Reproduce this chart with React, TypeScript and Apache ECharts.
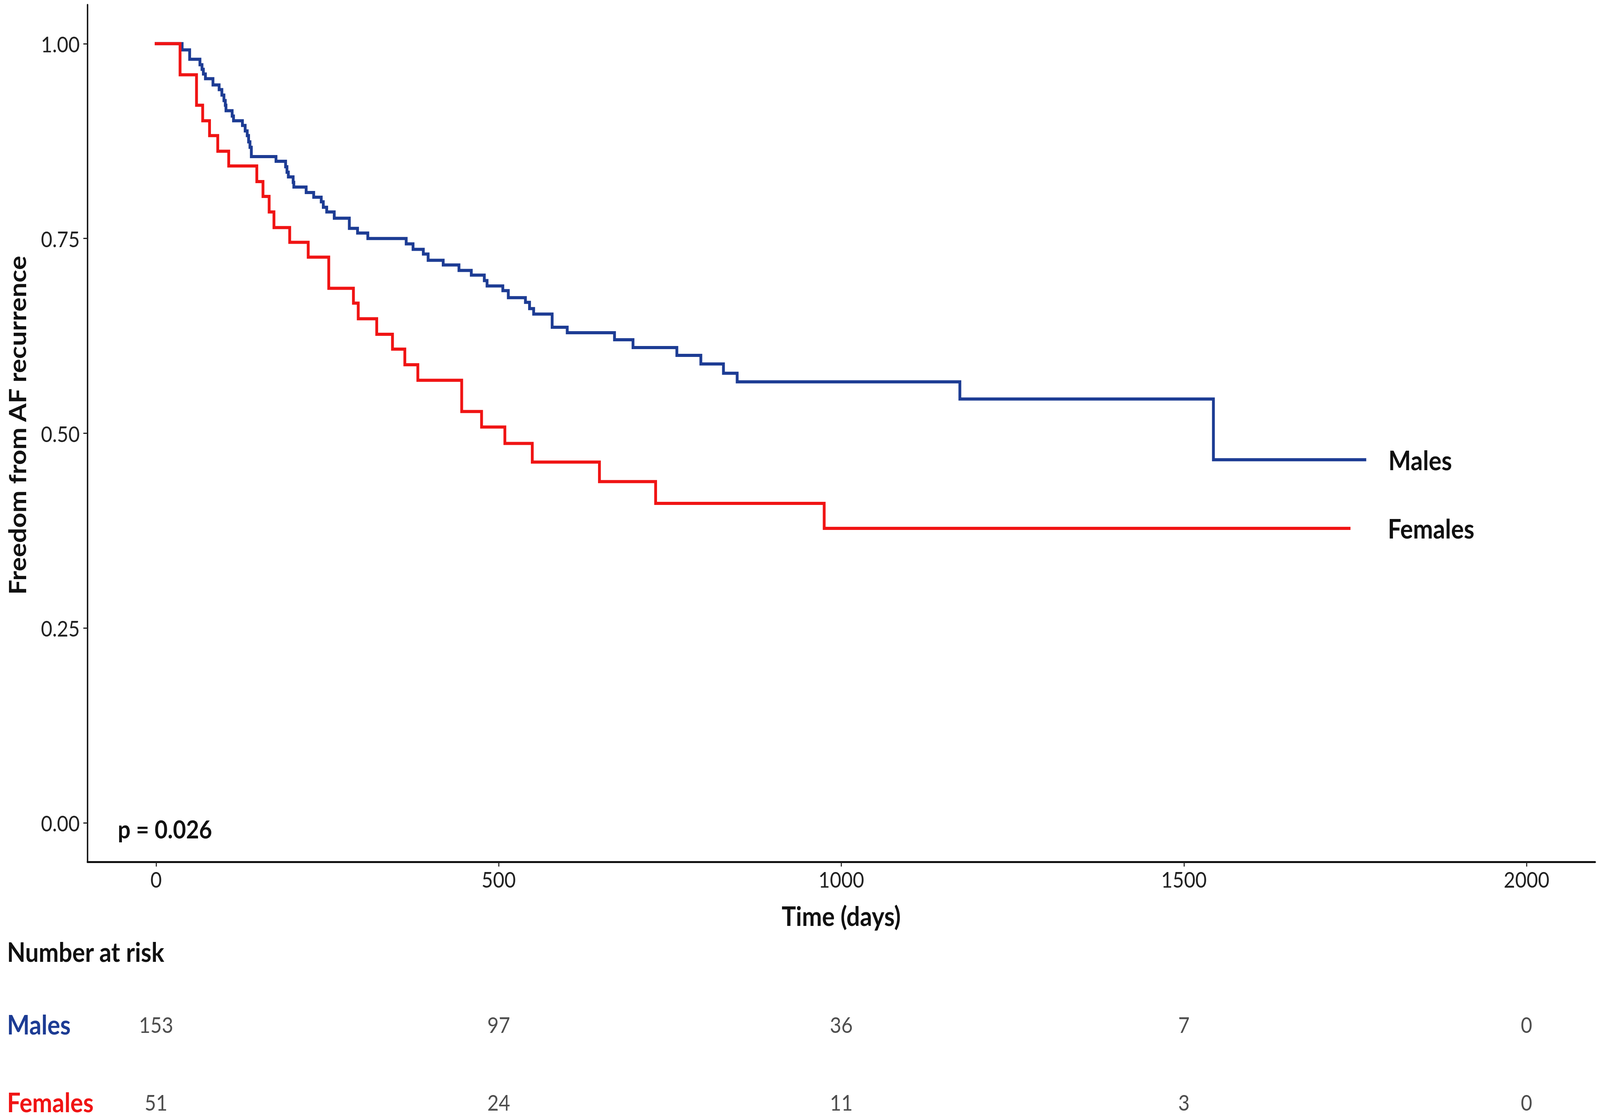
import React, { useEffect, useRef } from "react";
import * as echarts from "echarts";

// ---- data ----
const xTicks = [0, 500, 1000, 1500, 2000];
const yTicks = [0, 0.25, 0.5, 0.75, 1];

const maleTimes = [0, 38, 49, 64, 67, 69, 72, 83, 92, 96, 99, 101, 102, 111, 113, 126, 130, 133, 135, 137, 139, 175, 189, 191, 193, 200, 201, 219, 230, 241, 244, 249, 260, 282, 294, 309, 365, 375, 390, 397, 419, 442, 460, 479, 483, 506, 514, 539, 545, 551, 578, 600, 669, 696, 760, 795, 828, 848, 1173, 1543, 1764];
const maleSurv = [1, 0.992, 0.98, 0.973, 0.967, 0.961, 0.955, 0.947, 0.941, 0.934, 0.927, 0.921, 0.914, 0.907, 0.901, 0.895, 0.888, 0.882, 0.874, 0.867, 0.855, 0.849, 0.842, 0.835, 0.829, 0.822, 0.816, 0.809, 0.803, 0.797, 0.79, 0.784, 0.776, 0.763, 0.757, 0.75, 0.743, 0.736, 0.73, 0.722, 0.716, 0.709, 0.703, 0.696, 0.689, 0.683, 0.674, 0.668, 0.66, 0.653, 0.636, 0.629, 0.62, 0.61, 0.6, 0.589, 0.577, 0.566, 0.544, 0.466, 0.466];

const femaleTimes = [0, 35, 59, 68, 78, 90, 106, 147, 156, 165, 172, 195, 222, 252, 288, 295, 322, 345, 363, 382, 446, 475, 509, 549, 647, 729, 975, 1741];
const femaleSurv = [1, 0.96, 0.921, 0.901, 0.882, 0.862, 0.843, 0.823, 0.804, 0.784, 0.764, 0.745, 0.726, 0.686, 0.667, 0.647, 0.627, 0.608, 0.588, 0.568, 0.528, 0.508, 0.487, 0.463, 0.438, 0.41, 0.378, 0.378];

const riskTimes = [0, 500, 1000, 1500, 2000];
const maleAtRisk = [153, 97, 36, 7, 0];
const femaleAtRisk = [51, 24, 11, 3, 0];

const groupNames = ["Males", "Females"];
const pValueText = "p = 0.026";

const BLUE = "#1d3c94";
const RED = "#f01414";
const FONT = "Lato";
const DW = 4550;
const DH = 2868;

export default function App() {
  const ref = useRef<HTMLDivElement>(null);
  const vw = typeof window !== "undefined" ? window.innerWidth : DW;
  const vh = typeof window !== "undefined" ? window.innerHeight : DH;
  const sx = vw / DW;
  const sy = vh / DH;

  useEffect(() => {
    if (!ref.current) return;
    const chart = echarts.init(ref.current, null, { renderer: "svg" });

    const maleData = maleTimes.map((t, i) => [t, maleSurv[i]]);
    const femaleData = femaleTimes.map((t, i) => [t, femaleSurv[i]]);
    const maleRisk = riskTimes.map((t, i) => [t, 1, maleAtRisk[i]]);
    const femaleRisk = riskTimes.map((t, i) => [t, 0, femaleAtRisk[i]]);

    const tickLabel = {
      fontFamily: FONT,
      fontSize: 56,
      fontWeight: 400 as any,
      color: "#222222",
    };
    const bold = (size: number) => ({
      fontFamily: FONT,
      fontSize: size,
      fontWeight: "bold",
      fill: "#111",
    });

    const option: any = {
      animation: false,
      backgroundColor: "#ffffff",
      textStyle: { fontFamily: FONT },
      grid: [
        { left: 249, right: 14, top: 12, bottom: 661 },
        { left: 249, right: 14, top: 2623, bottom: 46 },
      ],
      xAxis: [
        {
          gridIndex: 0,
          type: "value",
          min: -100,
          max: 2100,
          axisLine: { show: true, onZero: false, lineStyle: { color: "#111", width: 5 } },
          axisTick: {
            show: true,
            length: 12,
            customValues: xTicks,
            lineStyle: { color: "#222", width: 3 },
          },
          axisLabel: {
            ...tickLabel,
            customValues: xTicks,
            margin: 16,
            formatter: (v: number) => String(v),
          },
          splitLine: { show: false },
        },
        {
          gridIndex: 1,
          type: "value",
          min: -100,
          max: 2100,
          show: false,
        },
      ],
      yAxis: [
        {
          gridIndex: 0,
          type: "value",
          min: -0.05,
          max: 1.05,
          axisLine: { show: true, onZero: false, lineStyle: { color: "#111", width: 4 } },
          axisTick: {
            show: true,
            length: 12,
            customValues: yTicks,
            lineStyle: { color: "#222", width: 3 },
          },
          axisLabel: {
            ...tickLabel,
            customValues: yTicks,
            margin: 22,
            formatter: (v: number) => v.toFixed(2),
          },
          splitLine: { show: false },
        },
        {
          gridIndex: 1,
          type: "value",
          min: 0,
          max: 1,
          axisLine: { show: false, onZero: false },
          axisTick: { show: false },
          splitLine: { show: false },
          axisLabel: {
            customValues: [0, 1],
            align: "left",
            margin: 229,
            formatter: (v: number) =>
              v === 1 ? "{m|" + groupNames[0] + "}" : "{f|" + groupNames[1] + "}",
            rich: {
              m: { color: BLUE, fontFamily: FONT, fontWeight: "bold", fontSize: 68 },
              f: { color: RED, fontFamily: FONT, fontWeight: "bold", fontSize: 68 },
            },
          },
        },
      ],
      series: [
        {
          name: groupNames[0],
          type: "line",
          xAxisIndex: 0,
          yAxisIndex: 0,
          step: "end",
          showSymbol: false,
          symbol: "none",
          data: maleData,
          lineStyle: { color: BLUE, width: 8, cap: "square", join: "miter" },
          itemStyle: { color: BLUE },
          endLabel: {
            show: true,
            formatter: groupNames[0],
            distance: 67,
            fontFamily: FONT,
            fontSize: 68,
            fontWeight: "bold",
            color: "#111",
          },
          z: 2,
        },
        {
          name: groupNames[1],
          type: "line",
          xAxisIndex: 0,
          yAxisIndex: 0,
          step: "end",
          showSymbol: false,
          symbol: "none",
          data: femaleData,
          lineStyle: { color: RED, width: 8, cap: "square", join: "miter" },
          itemStyle: { color: RED },
          endLabel: {
            show: true,
            formatter: groupNames[1],
            distance: 110,
            fontFamily: FONT,
            fontSize: 68,
            fontWeight: "bold",
            color: "#111",
          },
          z: 3,
        },
        {
          type: "scatter",
          xAxisIndex: 1,
          yAxisIndex: 1,
          symbolSize: 1,
          itemStyle: { color: "rgba(0,0,0,0)" },
          data: [...maleRisk, ...femaleRisk],
          label: {
            show: true,
            position: "inside",
            formatter: (p: any) => String(p.value[2]),
            ...tickLabel,
          },
        },
      ],
      graphic: [
        {
          type: "text",
          x: 48,
          y: 1089,
          rotation: Math.PI / 2,
          style: {
            text: "Freedom from AF recurrence",
            ...bold(68),
            align: "center",
            verticalAlign: "middle",
          },
        },
        {
          type: "text",
          x: 2392,
          y: 2345,
          style: {
            text: "Time (days)",
            ...bold(68),
            align: "center",
            verticalAlign: "middle",
          },
        },
        {
          type: "text",
          x: 20,
          y: 2437,
          style: {
            text: "Number at risk",
            ...bold(68),
            align: "left",
            verticalAlign: "middle",
          },
        },
        {
          type: "text",
          x: 335,
          y: 2122,
          style: {
            text: pValueText,
            ...bold(64),
            align: "left",
            verticalAlign: "middle",
          },
        },
      ],
    };

    chart.setOption(option);
    return () => chart.dispose();
  }, []);

  return (
    <div
      style={{
        position: "absolute",
        left: 0,
        top: 0,
        width: vw,
        height: vh,
        overflow: "hidden",
        background: "#fff",
      }}
    >
      <div
        ref={ref}
        style={{
          width: DW,
          height: DH,
          transform: `scale(${sx}, ${sy})`,
          transformOrigin: "0 0",
          background: "#fff",
        }}
      />
    </div>
  );
}
